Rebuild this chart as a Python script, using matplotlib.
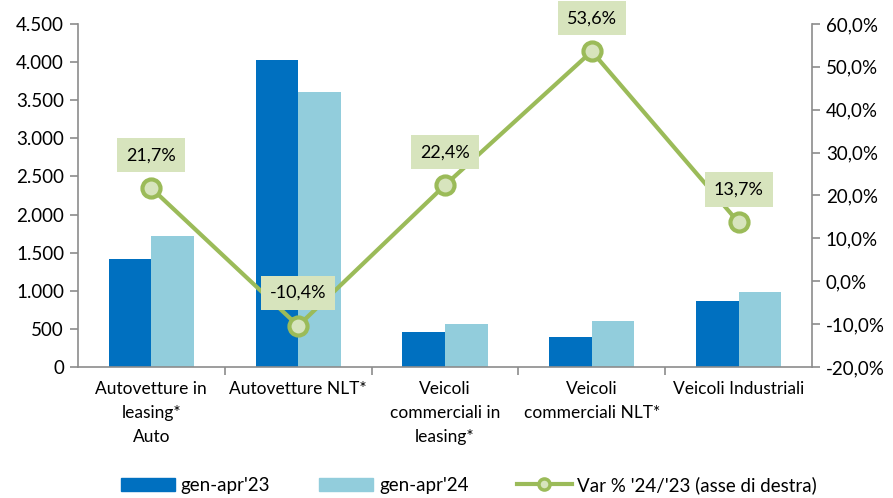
import matplotlib
matplotlib.use("Agg")
import matplotlib.pyplot as plt
import numpy as np
from matplotlib.ticker import FuncFormatter, FixedLocator
from matplotlib.lines import Line2D
from matplotlib.patches import Patch

plt.rcParams["font.family"] = ["Lato", "DejaVu Sans"]

categories = [
    "Autovetture in\nleasing*\nAuto",
    "Autovetture NLT*",
    "Veicoli\ncommerciali in\nleasing*",
    "Veicoli\ncommerciali NLT*",
    "Veicoli Industriali",
]
vals_23 = [1415, 4025, 460, 395, 870]
vals_24 = [1720, 3605, 565, 610, 985]
var_pct = [21.7, -10.4, 22.4, 53.6, 13.7]
var_labels = ["21,7%", "-10,4%", "22,4%", "53,6%", "13,7%"]

DARK = "#0070c0"
LIGHT = "#92cddc"
GREEN = "#9bbb59"
PALE = "#d7e4bd"
GRAY = "#8c8c8c"

fig = plt.figure(figsize=(8.93, 4.98), dpi=100)
ax = fig.add_axes([0.0873, 0.263, 0.822, 0.689])
x = np.arange(len(categories))
w = 0.29
ax.bar(x - w / 2, vals_23, width=w, color=DARK, zorder=2)
ax.bar(x + w / 2, vals_24, width=w, color=LIGHT, zorder=2)
ax.set_xlim(-0.5, len(categories) - 0.5)
ax.set_ylim(0, 4500)
ax.set_yticks(np.arange(0, 4501, 500))
ax.yaxis.set_major_formatter(FuncFormatter(lambda v, p: f"{int(v):,}".replace(",", ".")))
ax.set_xticks(x)
ax.set_xticklabels(categories, fontsize=12.5, va="top", linespacing=1.6)
ax.xaxis.set_minor_locator(FixedLocator(np.arange(0.5, len(categories) - 0.5, 1)))
ax.tick_params(axis="x", which="major", length=0, pad=10)
ax.tick_params(axis="x", which="minor", length=6, color=GRAY, width=1.2)
ax.tick_params(axis="y", length=6, color=GRAY, width=1.2, labelsize=13.5, pad=4)
for s in ["top", "right"]:
    ax.spines[s].set_visible(False)
for s in ["left", "bottom"]:
    ax.spines[s].set_color(GRAY)
    ax.spines[s].set_linewidth(1.2)

ax2 = ax.twinx()
ax2.plot(x, var_pct, color=GREEN, lw=3, marker="o", ms=13, mfc=PALE, mec=GREEN, mew=3, zorder=3)
ax2.set_ylim(-20, 60)
ax2.set_yticks(np.arange(-20, 61, 10))
ax2.yaxis.set_major_formatter(FuncFormatter(lambda v, p: f"{v:.1f}%".replace(".", ",")))
ax2.tick_params(axis="y", length=6, color=GRAY, width=1.2, labelsize=13.5, pad=4)
for s in ["top", "left", "bottom"]:
    ax2.spines[s].set_visible(False)
ax2.spines["right"].set_color(GRAY)
ax2.spines["right"].set_linewidth(1.2)

for xi, yi, lab in zip(x, var_pct, var_labels):
    ax2.annotate(lab, (xi, yi), xytext=(0, 33), textcoords="offset pixels",
                 ha="center", va="center", fontsize=13,
                 bbox=dict(boxstyle="square,pad=0.5", fc=PALE, ec="none"), zorder=4)

handles = [
    Patch(color=DARK),
    Patch(color=LIGHT),
    Line2D([0], [0], color=GREEN, lw=3, marker="o", ms=8, mfc=PALE, mec=GREEN, mew=2.5),
]
fig.legend(handles, ["gen-apr'23", "gen-apr'24", "Var % '24/'23 (asse di destra)"],
           loc="lower center", bbox_to_anchor=(0.525, -0.026), ncol=3, frameon=False,
           fontsize=13.5, handlelength=2.9, handleheight=0.75, columnspacing=2.6, handletextpad=0.3)

fig.savefig("out.png", dpi=100)
